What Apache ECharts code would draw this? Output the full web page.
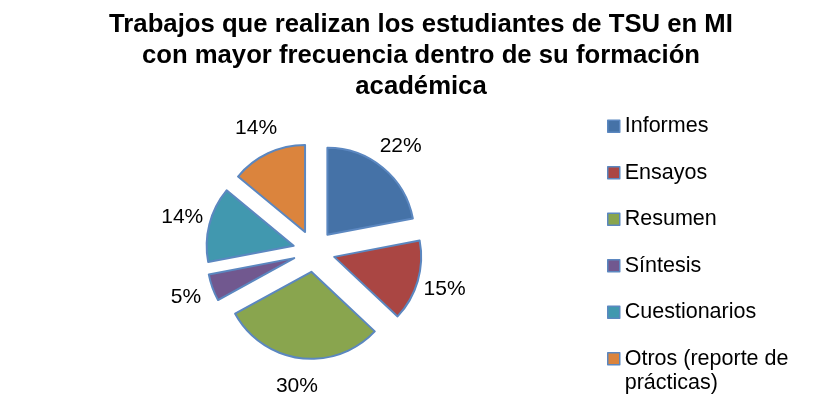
<!DOCTYPE html>
<html>
<head>
<meta charset="utf-8">
<script src="https://cdn.jsdelivr.net/npm/echarts@6/dist/echarts.min.js"></script>
<style>
  html, body { margin: 0; padding: 0; background: #fff; }
  #main { width: 837px; height: 395px; }
</style>
</head>
<body>
<div id="main"></div>
<script>
// datos del grafico
var categorias = ["Informes", "Ensayos", "Resumen", "Síntesis", "Cuestionarios", "Otros (reporte de prácticas)"];
var porcentajes = [22, 15, 30, 5, 14, 14];
var colores = ["#4572A7", "#AA4643", "#89A54E", "#71588F", "#4198AF", "#DB843D"];

var chart = echarts.init(document.getElementById("main"));

var datos = categorias.map(function (c, i) {
  return { name: c, value: porcentajes[i], selected: true, itemStyle: { color: colores[i] } };
});

var estiloLeyenda = {
  orient: "vertical",
  left: 607,
  height: 400,
  padding: 0,
  icon: "rect",
  itemWidth: 12,
  itemHeight: 12,
  itemGap: 22,
  selectedMode: false,
  itemStyle: { borderColor: "#5B87C0", borderWidth: 1.5 },
  textStyle: {
    fontFamily: "Liberation Sans, Arial",
    fontSize: 21.5,
    color: "#000",
    lineHeight: 24.5
  }
};

chart.setOption({
  animation: false,
  title: {
    text: "Trabajos que realizan los estudiantes de TSU en MI\ncon mayor frecuencia dentro de su formación\nacadémica",
    left: 416,
    textAlign: "center",
    top: 4,
    textStyle: {
      fontFamily: "Liberation Sans, Arial",
      fontSize: 25.7,
      fontWeight: "bold",
      color: "#000",
      lineHeight: 31.3
    }
  },
  legend: [
    Object.assign({}, estiloLeyenda, {
      top: 114,
      data: categorias.slice(0, 5)
    }),
    // la ultima entrada ocupa dos lineas; la linea vacia deja el icono junto a la primera
    Object.assign({}, estiloLeyenda, {
      top: 322,
      data: categorias.slice(5),
      formatter: function () {
        return "\nOtros (reporte de\nprácticas)";
      }
    })
  ],
  series: [
    {
      type: "pie",
      center: [314, 251],
      radius: 87,
      startAngle: 90,
      selectedMode: "multiple",
      selectedOffset: 21,
      avoidLabelOverlap: false,
      emphasis: { disabled: true },
      itemStyle: { borderColor: "#5B87C0", borderWidth: 2 },
      label: {
        show: true,
        position: "outside",
        formatter: "{c}%",
        distanceToLabelLine: 0,
        fontFamily: "Liberation Sans, Arial",
        fontSize: 21,
        color: "#000"
      },
      labelLine: { show: false, length: 28, length2: 0 },
      labelLayout: { align: "center" },
      data: datos
    }
  ]
});
</script>
</body>
</html>
